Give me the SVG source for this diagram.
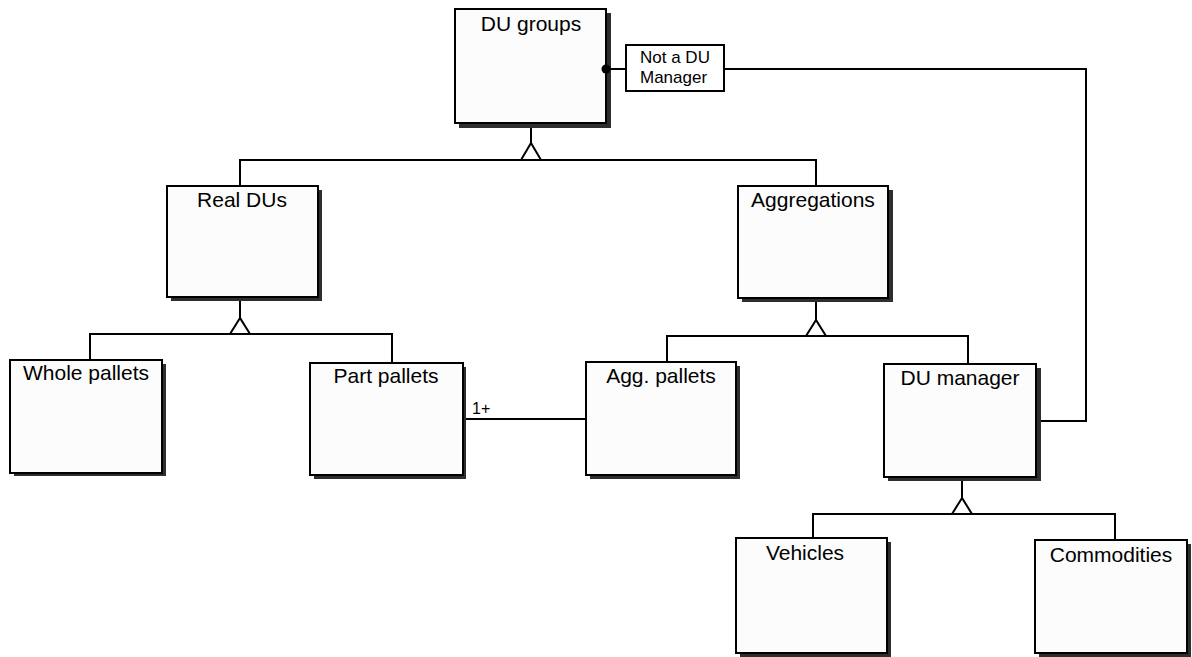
<svg xmlns="http://www.w3.org/2000/svg" width="1192" height="657" viewBox="0 0 1192 657">
<defs>
<style>
.shadow{fill:#2e2e2e;}
.box{fill:#fcfcfc;stroke:#000;stroke-width:2;}
.title{font-family:"Liberation Sans",Arial,sans-serif;font-size:21px;fill:#000;text-anchor:middle;}
.lbl{font-family:"Liberation Sans",Arial,sans-serif;font-size:17px;fill:#000;}
.conn{fill:none;stroke:#000;stroke-width:2;}
.tri{fill:#fff;stroke:#000;stroke-width:2;stroke-linejoin:miter;}
</style>
</defs>
<rect width="1192" height="657" fill="#fff"/>

<g id="du-groups">
  <rect class="shadow" x="459" y="13" width="152" height="115"/>
  <rect class="box" x="455" y="9" width="151" height="114"/>
  <text class="title" x="531" y="31">DU groups</text>
</g>

<g id="real-dus">
  <rect class="shadow" x="171" y="190" width="151" height="111"/>
  <rect class="box" x="167" y="186" width="151" height="111"/>
  <text class="title" x="242" y="207">Real DUs</text>
</g>

<g id="aggregations">
  <rect class="shadow" x="742" y="190" width="151" height="112"/>
  <rect class="box" x="738" y="186" width="150" height="112"/>
  <text class="title" x="813" y="207">Aggregations</text>
</g>

<g id="whole-pallets">
  <rect class="shadow" x="14" y="364" width="152" height="112"/>
  <rect class="box" x="10" y="360" width="152" height="113"/>
  <text class="title" x="86" y="380">Whole pallets</text>
</g>

<g id="part-pallets">
  <rect class="shadow" x="314" y="367" width="152" height="112"/>
  <rect class="box" x="310" y="363" width="153" height="112"/>
  <text class="title" x="386" y="383">Part pallets</text>
</g>

<g id="agg-pallets">
  <rect class="shadow" x="590" y="366" width="150" height="113"/>
  <rect class="box" x="586" y="362" width="150" height="113"/>
  <text class="title" x="661" y="383">Agg. pallets</text>
</g>

<g id="du-manager">
  <rect class="shadow" x="888" y="368" width="153" height="113"/>
  <rect class="box" x="884" y="364" width="152" height="113"/>
  <text class="title" x="960" y="385">DU manager</text>
</g>

<g id="vehicles">
  <rect class="shadow" x="740" y="542" width="151" height="115"/>
  <rect class="box" x="736" y="538" width="151" height="115"/>
  <text class="title" x="805" y="560">Vehicles</text>
</g>

<g id="commodities">
  <rect class="shadow" x="1039" y="544" width="152" height="113"/>
  <rect class="box" x="1035" y="540" width="152" height="113"/>
  <text class="title" x="1111" y="562">Commodities</text>
</g>

<g id="connectors">
  <!-- DU groups generalization -->
  <path class="conn" d="M531,128 V143 M240,186 V160 H816 V186"/>
  <polygon class="tri" points="531,143 521,160 541,160"/>
  <!-- Real DUs generalization -->
  <path class="conn" d="M240,301 V318 M90,360 V334 H392 V363"/>
  <polygon class="tri" points="240,318 230,334 250,334"/>
  <!-- Aggregations generalization -->
  <path class="conn" d="M816,302 V320 M667,362 V336 H968 V364"/>
  <polygon class="tri" points="816,320 806,336 826,336"/>
  <!-- DU manager generalization -->
  <path class="conn" d="M962,481 V498 M813,538 V514 H1115 V540"/>
  <polygon class="tri" points="962,498 952,514 972,514"/>
  <!-- Part pallets to Agg. pallets -->
  <path class="conn" d="M466,419 H586"/>
  <text class="lbl" x="472" y="414" style="font-size:16px">1+</text>
  <!-- Not a DU Manager -->
  <path class="conn" d="M606,69 H626 M724,69 H1086 V421 H1041"/>
  <circle cx="606" cy="69" r="4.5" fill="#000"/>
  <g id="not-du-manager">
    <rect x="626" y="45" width="98" height="46" fill="#fff" stroke="#000" stroke-width="2"/>
    <text class="lbl" x="640" y="63">Not a DU</text>
    <text class="lbl" x="640" y="83">Manager</text>
  </g>
</g>
</svg>
